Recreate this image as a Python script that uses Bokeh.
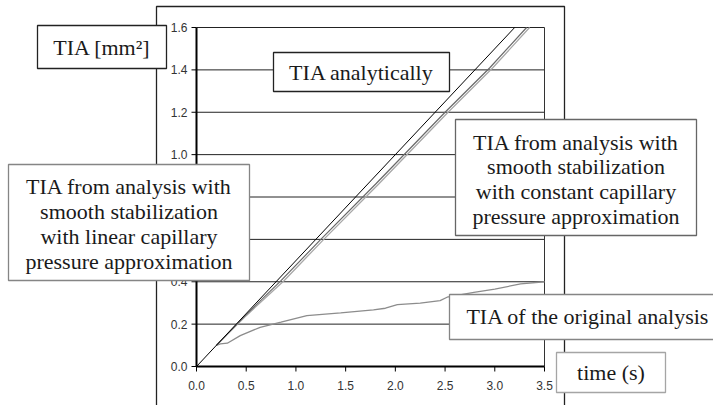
import math
from bokeh.plotting import figure
from bokeh.models import BoxAnnotation, Label
from bokeh.core.properties import value
from bokeh.embed import file_html
from bokeh.resources import INLINE

# ---- data ----
t_analytic = [0.0, 3.2]
tia_analytic = [0.0, 1.6]

t_const = [0.2, 0.5, 0.85, 1.25, 1.8, 2.5, 2.95, 3.32]
tia_const = [0.10, 0.245, 0.405, 0.60, 0.86, 1.20, 1.41, 1.60]

t_linear = [0.2, 0.5, 0.88, 1.28, 1.83, 2.53, 2.98, 3.35]
tia_linear = [0.10, 0.24, 0.405, 0.60, 0.86, 1.20, 1.41, 1.60]

t_orig = [0.2, 0.24, 0.31, 0.44, 0.64, 0.85, 1.11, 1.45, 1.78, 1.9, 2.02,
          2.25, 2.45, 2.52, 2.79, 3.0, 3.26, 3.5]
tia_orig = [0.10, 0.107, 0.11, 0.146, 0.185, 0.209, 0.24, 0.253, 0.267, 0.275,
            0.292, 0.299, 0.311, 0.327, 0.35, 0.365, 0.39, 0.40]

x_ticks = [0.0, 0.5, 1.0, 1.5, 2.0, 2.5, 3.0, 3.5]
x_tick_labels = ["0.0", "0.5", "1.0", "1.5", "2.0", "2.5", "3.0", "3.5"]
y_ticks = [0.0, 0.2, 0.4, 0.6, 0.8, 1.0, 1.2, 1.4, 1.6]
y_tick_labels = ["0.0", "0.2", "0.4", "0.6", "0.8", "1.0", "1.2", "1.4", "1.6"]

# ---- layout (pixels) ----
W, H = 713, 405
FL, FR, FT, FB = 196, 544, 27, 366  # plot-area edges in canvas pixels
XMIN, XMAX, YMIN, YMAX = 0.0, 3.5, 0.0, 1.6


def dx(px):
    return XMIN + (px - FL) * (XMAX - XMIN) / (FR - FL)


def dy(py):
    return YMIN + (FB - py) * (YMAX - YMIN) / (FB - FT)


p = figure(width=W, height=H, x_range=(dx(0), dx(W)), y_range=(dy(H), dy(0)),
           output_backend="svg", toolbar_location=None,
           x_axis_type=None, y_axis_type=None,
           min_border=0, min_border_left=0, min_border_right=0,
           min_border_top=0, min_border_bottom=0)
p.background_fill_color = "white"
p.border_fill_color = "white"
p.outline_line_color = None
p.grid.visible = False

# horizontal gridlines within the plot area
gy = y_ticks[1:]
p.segment(x0=[XMIN] * len(gy), y0=gy, x1=[XMAX] * len(gy), y1=gy,
          line_color="#222222", line_width=1)
# plot-area right border
p.segment(x0=[XMAX], y0=[YMIN], x1=[XMAX], y1=[YMAX], line_color="#333333", line_width=1)

# data series
p.line(t_orig, tia_orig, line_color="#8c8c8c", line_width=1.3)
p.line(t_linear, tia_linear, line_color="#a8a8a8", line_width=1.3)
p.line(t_const, tia_const, line_color="#6a6a6a", line_width=1.2)
p.line(t_analytic, tia_analytic, line_color="black", line_width=1)

# axes
p.segment(x0=[XMIN], y0=[YMIN], x1=[XMIN], y1=[YMAX], line_color="black", line_width=2)
p.segment(x0=[XMIN], y0=[YMIN], x1=[XMAX], y1=[YMIN], line_color="black", line_width=2)
p.ray(x=[XMIN] * len(y_ticks), y=y_ticks, length=5, length_units="screen",
      angle=math.pi, line_color="black", line_width=1)
p.ray(x=x_ticks, y=[YMIN] * len(x_ticks), length=5, length_units="screen",
      angle=-math.pi / 2, line_color="black", line_width=1)
p.text(x=[XMIN] * len(y_ticks), y=y_ticks, text=y_tick_labels, x_offset=-9,
       text_align="right", text_baseline="middle",
       text_font=value("Liberation Sans"), text_font_size="12px", text_color="#333333")
p.text(x=x_ticks, y=[YMIN] * len(x_ticks), text=x_tick_labels, y_offset=19,
       text_align="center", text_baseline="middle",
       text_font=value("Liberation Sans"), text_font_size="12px", text_color="#333333")

# outer chart border
p.add_layout(BoxAnnotation(left=dx(156), right=dx(564), top=dy(6), bottom=dy(430),
                           fill_alpha=0, line_color="#222222", line_alpha=1,
                           line_width=1.3))

FONT = "Liberation Serif"


def text_box(l, t, r, b, lines, cx, cys, border="#858585", size="22px"):
    p.add_layout(BoxAnnotation(left=dx(l), right=dx(r), top=dy(t), bottom=dy(b),
                               fill_color="white", fill_alpha=1,
                               line_color=border, line_alpha=1, line_width=1.3))
    for txt, cy in zip(lines, cys):
        p.add_layout(Label(x=dx(cx), y=dy(cy), text=txt, text_font=FONT,
                           text_font_size=size, text_color="#1a1a1a",
                           text_align="center", text_baseline="middle"))


text_box(37, 25, 166, 68, ["TIA [mm²]"], 101.5, [47], border="#222222")
text_box(273, 52, 449, 91, ["TIA analytically"], 361, [72], border="#222222")
text_box(455, 119, 696, 235,
         ["TIA from analysis with", "smooth stabilization",
          "with constant capillary", "pressure approximation"],
         575.5, [142, 166, 191, 216], border="#666666")
text_box(8, 164, 249, 280,
         ["TIA from analysis with", "smooth stabilization",
          "with linear capillary", "pressure approximation"],
         128.5, [186, 211, 236, 261])
text_box(449, 294, 740, 339, ["TIA of the original analysis"], 587.5, [316])
text_box(556, 352, 665, 392, ["time (s)"], 610.5, [372], border="#a5a5a5")

open("out.html", "w").write(file_html(p, INLINE))
